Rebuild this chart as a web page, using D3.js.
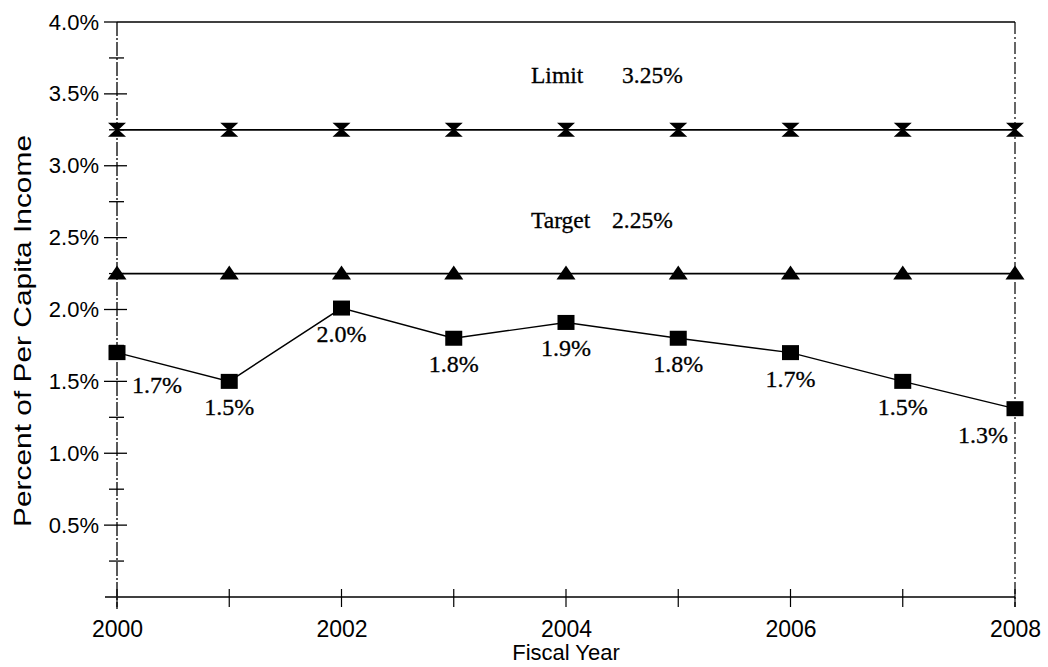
<!DOCTYPE html>
<html><head><meta charset="utf-8">
<script src="https://cdn.jsdelivr.net/npm/d3@7"></script>
<style>body{margin:0;background:#fff}svg{display:block}</style>
</head><body>
<script>
const years = [2000, 2001, 2002, 2003, 2004, 2005, 2006, 2007, 2008];
const actual = [1.70, 1.50, 2.01, 1.80, 1.91, 1.80, 1.70, 1.50, 1.31];
const actualLabels = ["1.7%", "1.5%", "2.0%", "1.8%", "1.9%", "1.8%", "1.7%", "1.5%", "1.3%"];
const limit = [3.25, 3.25, 3.25, 3.25, 3.25, 3.25, 3.25, 3.25, 3.25];
const target = [2.25, 2.25, 2.25, 2.25, 2.25, 2.25, 2.25, 2.25, 2.25];
const yMajor = [0.5, 1.0, 1.5, 2.0, 2.5, 3.0, 3.5, 4.0];
const yMinor = [0.25, 0.75, 1.25, 1.75, 2.25, 2.75, 3.25, 3.75];
const xLabelYears = [2000, 2002, 2004, 2006, 2008];
const limitText = ["Limit", "3.25%"];
const targetText = ["Target", "2.25%"];

const W = 1048, H = 667;
const svg = d3.select("body").append("svg").attr("width", W).attr("height", H);
const x = d3.scaleLinear().domain([2000, 2008]).range([117, 1015]);
const y = d3.scaleLinear().domain([0, 4]).range([597, 22]);
const sans = "Liberation Sans, Arial, sans-serif";
const serif = "Liberation Serif, Times New Roman, serif";

// frame
svg.append("line").attr("x1", x(2000)).attr("x2", x(2008)).attr("y1", y(4)).attr("y2", y(4))
  .attr("stroke", "#000").attr("stroke-width", 1.6);
svg.append("line").attr("x1", x(2008)).attr("x2", x(2008)).attr("y1", y(4)).attr("y2", y(0) + 10)
  .attr("stroke", "#000").attr("stroke-width", 1.2).attr("stroke-dasharray", "12,3,2,3");

// y axis
const yAxis = d3.axisLeft(y).tickValues(yMajor).tickSize(0).tickPadding(18)
  .tickFormat(d => d.toFixed(1) + "%");
const gy = svg.append("g").attr("transform", `translate(${x(2000)},0)`).call(yAxis);
gy.select(".domain").remove();
gy.selectAll("text").attr("font-family", sans).attr("font-size", 22).attr("fill", "#000");
svg.append("line").attr("x1", x(2000)).attr("x2", x(2000)).attr("y1", y(4)).attr("y2", y(0) + 12)
  .attr("stroke", "#000").attr("stroke-width", 1.3).attr("stroke-dasharray", "14,2,2,2");
svg.selectAll(".ymaj").data(yMajor.filter(v => v < 4)).join("line")
  .attr("x1", x(2000) - 13).attr("x2", x(2000) + 10).attr("y1", d => y(d)).attr("y2", d => y(d))
  .attr("stroke", "#000").attr("stroke-width", 1.3);
svg.append("line").attr("x1", x(2000) - 13).attr("x2", x(2000)).attr("y1", y(4)).attr("y2", y(4))
  .attr("stroke", "#000").attr("stroke-width", 1.3);
svg.selectAll(".ymin").data(yMinor).join("line")
  .attr("x1", x(2000) - 8).attr("x2", x(2000) + 7).attr("y1", d => y(d)).attr("y2", d => y(d))
  .attr("stroke", "#000").attr("stroke-width", 1.3);

// x axis
const xAxis = d3.axisBottom(x).tickValues(xLabelYears).tickSize(0).tickPadding(24)
  .tickFormat(d3.format("d"));
const gx = svg.append("g").attr("transform", `translate(0,${y(0)})`).call(xAxis);
gx.select(".domain").remove();
gx.selectAll("text").attr("font-family", sans).attr("font-size", 23).attr("fill", "#000");
svg.append("line").attr("x1", x(2000) - 12).attr("x2", x(2008)).attr("y1", y(0)).attr("y2", y(0))
  .attr("stroke", "#000").attr("stroke-width", 1.6);
svg.selectAll(".xt").data(years).join("line")
  .attr("x1", d => x(d)).attr("x2", d => x(d))
  .attr("y1", d => y(0) - 8).attr("y2", d => y(0) + 10)
  .attr("stroke", "#000").attr("stroke-width", 1.2);

// axis titles
svg.append("text").attr("transform", `translate(31,331) rotate(-90)`)
  .attr("text-anchor", "middle").attr("font-family", sans).attr("font-size", 24)
  .attr("textLength", 392).attr("lengthAdjust", "spacingAndGlyphs").text("Percent of Per Capita Income");
svg.append("text").attr("x", (x(2000) + x(2008)) / 2).attr("y", 660)
  .attr("text-anchor", "middle").attr("font-family", sans).attr("font-size", 22).text("Fiscal Year");

const line = d3.line().x((d, i) => x(years[i])).y(d => y(d));
// limit
svg.append("path").attr("d", line(limit)).attr("fill", "none").attr("stroke", "#000").attr("stroke-width", 1.8);
svg.selectAll(".lim").data(limit).join("path")
  .attr("transform", (d, i) => `translate(${x(years[i])},${y(d)})`)
  .attr("d", "M-9,-7 L9,-7 L1.5,0 L9,7 L-9,7 L-1.5,0 Z").attr("fill", "#000");
// target
svg.append("path").attr("d", line(target)).attr("fill", "none").attr("stroke", "#000").attr("stroke-width", 1.8);
svg.selectAll(".tgt").data(target).join("path")
  .attr("transform", (d, i) => `translate(${x(years[i])},${y(d)})`)
  .attr("d", "M0,-8 L9.5,6 L-9.5,6 Z").attr("fill", "#000");
// actual
svg.append("path").attr("d", line(actual)).attr("fill", "none").attr("stroke", "#000").attr("stroke-width", 1.4);
svg.selectAll(".act").data(actual).join("rect")
  .attr("x", (d, i) => x(years[i]) - 8.5).attr("y", d => y(d) - 7.5)
  .attr("width", 17).attr("height", 15).attr("fill", "#000");
svg.selectAll(".actl").data(actual).join("text")
  .attr("x", (d, i) => i === 0 ? x(years[i]) + 15 : (i === years.length - 1 ? x(years[i]) - 32 : x(years[i])))
  .attr("y", (d, i) => y(d) + (i === 0 ? 40 : 34))
  .attr("text-anchor", (d, i) => i === 0 ? "start" : "middle")
  .attr("font-family", serif).attr("font-size", 24).attr("stroke", "#000").attr("stroke-width", 0.3)
  .text((d, i) => actualLabels[i]);

// annotations
const ann = [
  {t: limitText[0], x: 531, y: y(limit[0]) - 47},
  {t: limitText[1], x: 622, y: y(limit[0]) - 47},
  {t: targetText[0], x: 531, y: y(target[0]) - 46},
  {t: targetText[1], x: 612, y: y(target[0]) - 46}
];
svg.selectAll(".ann").data(ann).join("text")
  .attr("x", d => d.x).attr("y", d => d.y)
  .attr("font-family", serif).attr("font-size", 23.5).attr("stroke", "#000").attr("stroke-width", 0.3)
  .text(d => d.t);
</script>
</body></html>
